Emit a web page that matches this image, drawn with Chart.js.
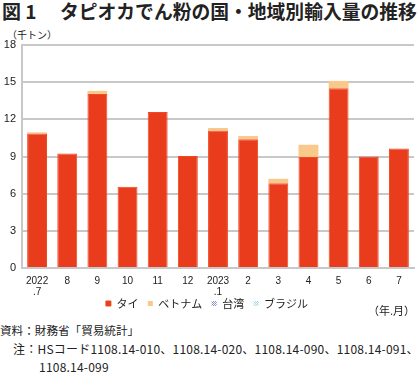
<!DOCTYPE html>
<html>
<head>
<meta charset="utf-8">
<script src="https://cdn.jsdelivr.net/npm/chart.js@4"></script>
<style>
  body { margin: 0; width: 420px; height: 375px; background: #fff; position: relative; overflow: hidden;
         font-family: "Liberation Sans", "Noto Sans CJK JP", sans-serif; color: #222; }
  .abs { position: absolute; white-space: nowrap; }
  #title1 { left: 2px; top: 0px; font-size: 19px; font-weight: bold; font-family: "Noto Sans CJK JP"; line-height: 22px; }
  #title2 { left: 60px; top: 0px; font-size: 18.8px; font-weight: bold; font-family: "Noto Sans CJK JP"; line-height: 22px; }
  #unit { left: 7px; top: 28px; font-size: 10px; font-family: "Noto Sans CJK JP"; line-height: 14px; }
  #ym { left: 368px; top: 302px; font-size: 11px; font-family: "Noto Sans CJK JP"; line-height: 16px; }
  .note { font-size: 12px; font-family: "Noto Sans CJK JP"; line-height: 16px; }
  #wrap { position: absolute; left: 0; top: 26px; width: 420px; height: 293px; }
</style>
</head>
<body>
<div id="title1" class="abs">図 1</div>
<div id="title2" class="abs">タピオカでん粉の国・地域別輸入量の推移</div>
<div id="unit" class="abs">（千トン）</div>
<div id="wrap"><canvas id="chart"></canvas></div>
<div id="ym" class="abs">（年.月）</div>
<div class="abs note" style="left:0px; top:322px; font-size:11.6px;">資料：財務省「貿易統計」</div>
<div class="abs note" style="left:13px; top:341px; letter-spacing:0.22px;">注：HSコード1108.14-010、1108.14-020、1108.14-090、1108.14-091、</div>
<div class="abs note" style="left:39px; top:359px; letter-spacing:0.22px;">1108.14-099</div>
<script>
// 月別の輸入量（千トン）
let MONTHS = [["2022", ".7"], "8", "9", "10", "11", "12", ["2023", ".1"], "2", "3", "4", "5", "6", "7"];
let THAI = [10.85, 9.25, 14.05, 6.55, 12.6, 9.05, 11.1, 10.4, 6.85, 8.95, 14.5, 9.0, 9.65];
let VIETNAM = [0.1, 0.0, 0.25, 0.0, 0.0, 0.0, 0.2, 0.25, 0.35, 1.0, 0.6, 0.0, 0.0];
let TAIWAN = [0, 0, 0, 0, 0, 0, 0, 0, 0, 0, 0, 0, 0];
let BRAZIL = [0, 0, 0, 0, 0, 0, 0, 0, 0, 0, 0, 0, 0];
let Y_TICKS = [0, 3, 6, 9, 12, 15, 18];

let RED = "#e83c1c";
let ORANGE = "#f8c98a";

// small dotted fills for the two tiny series
function dots(color) {
  let c = document.createElement("canvas");
  c.width = 2; c.height = 2;
  let g = c.getContext("2d");
  g.fillStyle = "#fff"; g.fillRect(0, 0, 2, 2);
  g.fillStyle = color; g.fillRect(0, 0, 1, 1); g.fillRect(1, 1, 1, 1);
  return g.createPattern(c, "repeat");
}
let BLUE = dots("#7f8fd0");
let CYAN = dots("#9fd6ec");

var ctx = document.getElementById("chart").getContext("2d");
new Chart(ctx, {
  type: "bar",
  data: {
    labels: MONTHS,
    datasets: [
      { label: "タイ", data: THAI, backgroundColor: RED, borderColor: "#f04a22", borderWidth: 1 },
      { label: "ベトナム", data: VIETNAM, backgroundColor: ORANGE },
      { label: "台湾", data: TAIWAN, backgroundColor: BLUE },
      { label: "ブラジル", data: BRAZIL, backgroundColor: CYAN }
    ]
  },
  options: {
    responsive: true,
    maintainAspectRatio: false,
    animation: false,
    datasets: { bar: { barPercentage: 0.66, categoryPercentage: 1.0 } },
    layout: { padding: { top: 19, right: 6, left: 0, bottom: 0 } },
    plugins: {
      tooltip: { enabled: false },
      legend: {
        position: "bottom",
        labels: {
          boxWidth: 5, boxHeight: 5, padding: 2,
          color: "#222",
          font: { size: 11, family: "Noto Sans CJK JP", lineHeight: 1 },
          // a little more room between the items, like the original
          generateLabels: function (chart) {
            let items = Chart.defaults.plugins.legend.labels.generateLabels(chart);
            items.forEach((it, i) => { if (i < items.length - 1) it.text = it.text + "   "; });
            return items;
          }
        }
      }
    },
    scales: {
      x: {
        stacked: true,
        afterFit: function (s) { s.height = 28; },
        grid: { display: false, drawTicks: false },
        border: { color: "#c8c8c8", width: 2 },
        ticks: { color: "#222", font: { size: 10, family: "Liberation Sans", lineHeight: 1.15 }, maxRotation: 0, autoSkip: false, padding: 7 }
      },
      y: {
        stacked: true,
        min: 0, max: 18,
        afterFit: function (s) { s.width = 22; },
        afterBuildTicks: function (s) { s.ticks = Y_TICKS.map(v => ({ value: v })); },
        grid: { color: "#c8c8c8", lineWidth: 2, drawTicks: false },
        border: { display: true, color: "#c8c8c8", width: 2 },
        ticks: { color: "#222", font: { size: 11, family: "Liberation Sans" }, padding: 6 }
      }
    }
  }
});
</script>
</body>
</html>
